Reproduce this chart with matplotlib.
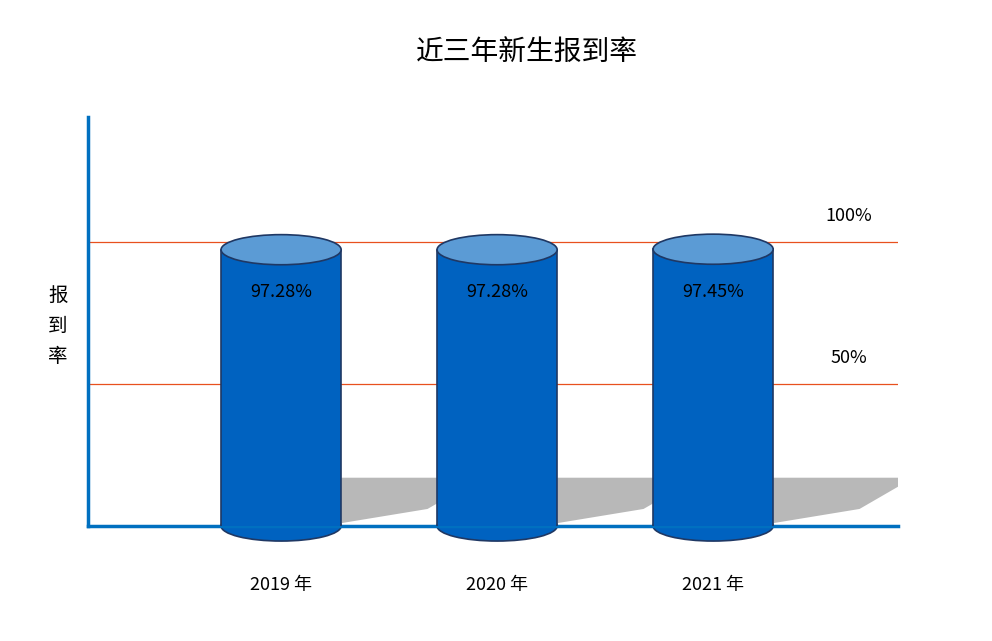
import matplotlib
matplotlib.use("Agg")
import matplotlib.pyplot as plt
from matplotlib.patches import Rectangle, Ellipse, Polygon

plt.rcParams['font.family'] = ['Noto Sans CJK SC', 'DejaVu Sans']

categories = ["2019 年", "2020 年", "2021 年"]
values = [97.28, 97.28, 97.45]
labels = ["97.28%", "97.28%", "97.45%"]
ref_lines = [100, 50]
ref_labels = ["100%", "50%"]

fig = plt.figure(figsize=(9.92, 6.41), dpi=100)
W, H = 992, 641
ax = fig.add_axes([88/W, 1-526/H, (898-88)/W, (526-117)/H])
ax.set_xlim(-0.894, 2.856)
ax.set_ylim(0, 144)
bw = 0.556
eh = 10.6
for i, v in enumerate(values):
    ax.add_patch(Polygon([(i+bw/2, 1), (i+bw/2+0.4, 6), (i+bw/2+0.65, 17), (i+bw/2, 17)],
                         closed=True, color='#b8b8b8', zorder=1, lw=0))
    ax.add_patch(Ellipse((i, 0), bw, eh, facecolor='#0062C0', edgecolor='#1F3864', lw=1.2,
                         zorder=2, clip_on=False))
    ax.add_patch(Rectangle((i-bw/2, 0), bw, v, facecolor='#0062C0', edgecolor='none', zorder=3))
    ax.plot([i-bw/2, i-bw/2], [0, v], color='#1F3864', lw=1.2, zorder=4)
    ax.plot([i+bw/2, i+bw/2], [0, v], color='#1F3864', lw=1.2, zorder=4)
    ax.add_patch(Ellipse((i, v), bw, eh, facecolor='#5B9BD5', edgecolor='#1F3864', lw=1.2, zorder=5))
    ax.text(i, v-15, labels[i], ha='center', va='center', fontsize=13, color='black', zorder=6)

for r, t in zip(ref_lines, ref_labels):
    ax.axhline(r, color='#E8501E', lw=0.9, zorder=0)
    ax.text(2.63, r+9, t, ha='center', va='center', fontsize=13)

ax.set_xticks(range(len(categories)))
ax.set_xticklabels(categories, fontsize=13)
ax.tick_params(axis='x', length=0, pad=36)
ax.set_yticks([])
for s in ['top', 'right']:
    ax.spines[s].set_visible(False)
for s in ['left', 'bottom']:
    ax.spines[s].set_color('#0070C0')
    ax.spines[s].set_linewidth(2.5)
    ax.spines[s].set_zorder(2.5)

fig.text(58/W, 1-326/H, "报\n到\n率", ha='center', va='center', fontsize=14, linespacing=1.6)
fig.text(527/W, 1-52/H, "近三年新生报到率", ha='center', va='center', fontsize=20)
fig.savefig("out.png", dpi=100)
